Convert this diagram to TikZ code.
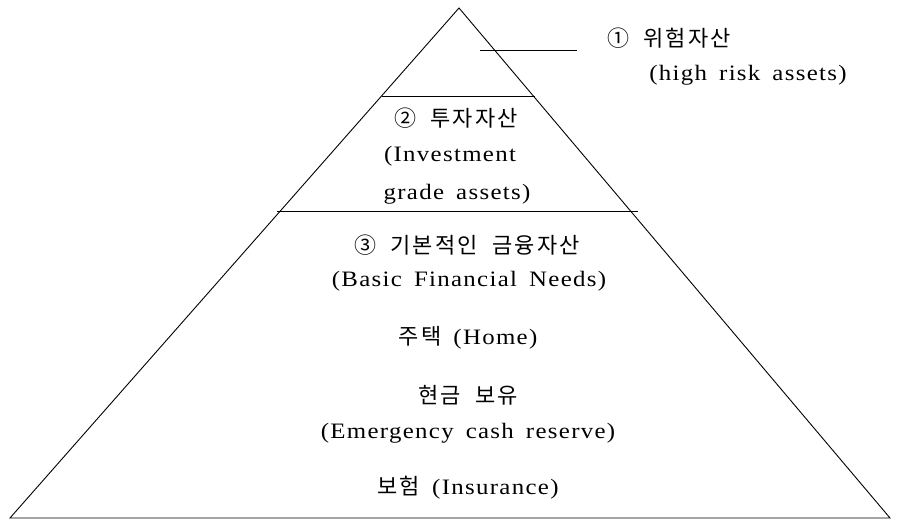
\documentclass[tikz,border=0pt]{standalone}
\usepackage{fontspec}
\setmainfont{Liberation Serif}[FakeStretch=1.13, LetterSpace=6, WordSpace=1.6]
\newfontfamily\krfont{Noto Sans CJK KR}[LetterSpace=10, WordSpace=2]
\newcommand{\kr}{\krfont\fontsize{22}{22}\selectfont}
\begin{document}
\begin{tikzpicture}[x=1pt,y=-1pt,
  edge/.style={line width=0.9pt, black},
  lbl/.style={inner sep=0pt, anchor=center, font=\fontsize{22}{22}\selectfont}]
\useasboundingbox (0,0) rectangle (901,525);
% pyramid
\coordinate (apex) at (459,8);
\coordinate (bl) at (10,518);
\coordinate (br) at (890,518);
\draw[edge, line join=miter] (apex) -- (bl) -- (br) -- cycle;
% dividers
\coordinate (d1l) at (382,96);
\coordinate (d1r) at (535,96);
\coordinate (d2l) at (277,211);
\coordinate (d2r) at (638,211);
\draw[edge] (d1l) -- (d1r);
\draw[edge] (d2l) -- (d2r);
% pointer line
\coordinate (p1) at (480,50);
\coordinate (p2) at (577,50);
\draw[edge] (p1) -- (p2);
% texts
\node[lbl] (t1) at (669,38) {{\kr ① 위험자산}};
\node[lbl] (t1e) at (748,75) {(high risk assets)};
\node[lbl] (t2) at (456,118) {{\kr ② 투자자산}};
\node[lbl] (t2e) at (450,156) {(Investment};
\node[lbl] (t2f) at (457,194) {grade assets)};
\node[lbl] (t3) at (467,245) {{\kr ③ 기본적인 금융자산}};
\node[lbl] (t3e) at (469,281) {(Basic Financial Needs)};
\node[lbl] (t4) at (468,338) {{\kr 주택} (Home)};
\node[lbl] (t5) at (468,395) {{\kr 현금 보유}};
\node[lbl] (t5e) at (468,433) {(Emergency cash reserve)};
\node[lbl] (t6) at (468,488) {{\kr 보험} (Insurance)};
\end{tikzpicture}
\end{document}
